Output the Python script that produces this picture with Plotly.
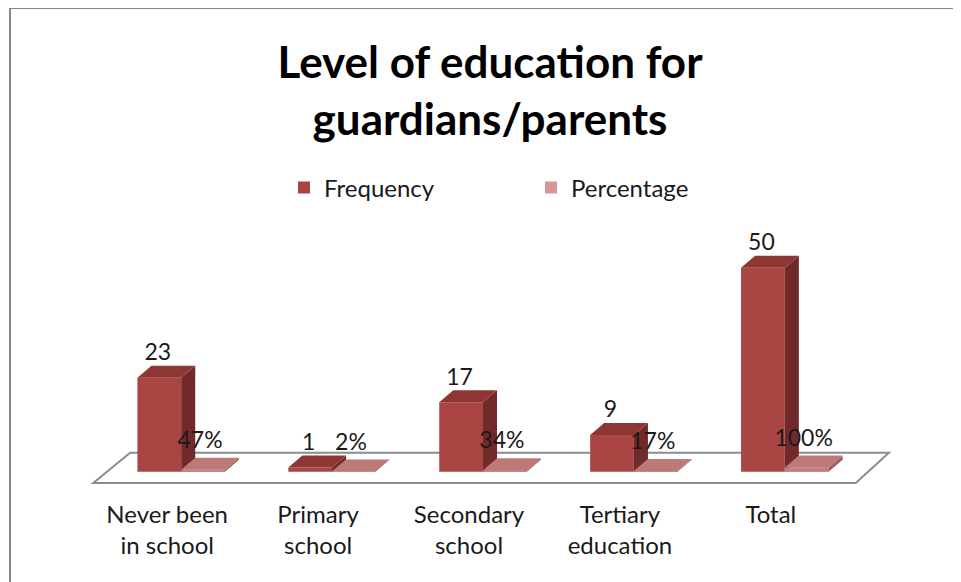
import plotly.graph_objects as go

# ---- data ----
categories = ["Never been<br>in school", "Primary<br>school", "Secondary<br>school",
              "Tertiary<br>education", "Total"]
frequency = [23, 1, 17, 9, 50]
percentage = [0.47, 0.02, 0.34, 0.17, 1.00]
series_names = ["Frequency", "Percentage"]

# ---- styling / geometry constants ----
W = 0.29          # bar width (category units)
DX = 0.093        # pseudo-3D depth, x (category units)
DY = 2.94         # pseudo-3D depth, y (value units)
FONT = "Lato"
FREQ_FRONT = "#A94543"
FREQ_TOP = "#8E3634"
FREQ_SIDE = "#72292A"
PCT_FRONT = "#C27F7E"
PCT_TOP = "#BC7978"
PCT_SIDE = "#9A5E5D"
PCT_LEGEND = "#D99694"
TEXT = "#1A1A1A"

# plot-area geometry (px, figure coords)
ML, MT, PW, PH = 60, 227, 830, 253

fig = go.Figure()

# floor (pseudo-3D base) -- decoration
fig.add_shape(type="path",
              path="M -0.583,-2.75 L -0.338,4.66 L 4.69,4.66 L 4.47,-2.75 Z",
              xref="x", yref="y", line=dict(color="#8C8C8C", width=2),
              fillcolor="white", layer="below")

xs = list(range(len(categories)))

# front faces as bars
fig.add_trace(go.Bar(x=xs, y=frequency, width=W, offset=-W, name=series_names[0],
                     marker=dict(color=FREQ_FRONT, line=dict(width=0))))
fig.add_trace(go.Bar(x=xs, y=percentage, width=W, offset=0, name=series_names[1],
                     marker=dict(color=PCT_LEGEND, line=dict(width=0))))


def face(xpts, ypts, color):
    fig.add_trace(go.Scatter(x=xpts + [xpts[0]], y=ypts + [ypts[0]], mode="lines",
                             fill="toself", fillcolor=color, line=dict(width=0, color=color),
                             hoverinfo="skip", showlegend=False))


for i, (f, p) in enumerate(zip(frequency, percentage)):
    # frequency bar: side, top
    x0, x1 = i - W, i
    face([x1, x1, x1 + DX, x1 + DX], [0, f, f + DY, DY], FREQ_SIDE)
    face([x0, x0 + DX, x1 + DX, x1], [f, f + DY, f + DY, f], FREQ_TOP)
    # percentage bar: front, side, top
    x0, x1 = i, i + W
    face([x0, x0, x1, x1], [0, p, p, 0], PCT_FRONT)
    face([x1, x1, x1 + DX, x1 + DX], [0, p, p + DY, DY], PCT_SIDE)
    face([x0, x0 + DX, x1 + DX, x1], [p, p + DY, p + DY, p], PCT_TOP)

# data labels
fig.add_trace(go.Scatter(x=[i - W / 2 - 0.01 for i in xs], y=[f + DY for f in frequency],
                         mode="text", text=[str(f) for f in frequency],
                         textposition="top center",
                         textfont=dict(family=FONT, size=23, color=TEXT),
                         showlegend=False, hoverinfo="skip", cliponaxis=False))
fig.add_trace(go.Scatter(x=[i + W / 2 - 0.02 for i in xs], y=[p + DY + 1 for p in percentage],
                         mode="text", text=[f"{round(p * 100)}%" for p in percentage],
                         textposition="top center",
                         textfont=dict(family=FONT, size=23, color=TEXT),
                         showlegend=False, hoverinfo="skip", cliponaxis=False))

# chart border (left & top visible)
fig.add_shape(type="rect", xref="paper", yref="paper",
              x0=(2 - ML) / PW, x1=(990 - ML) / PW,
              y0=(MT + PH - 620) / PH, y1=(MT + PH - 0) / PH,
              line=dict(color="#878787", width=2), fillcolor="rgba(0,0,0,0)", layer="below")

fig.update_layout(
    width=961, height=582,
    margin=dict(l=ML, r=961 - ML - PW, t=MT, b=582 - MT - PH, autoexpand=False),
    paper_bgcolor="white", plot_bgcolor="white",
    barmode="overlay",
    title=dict(text="<b>Level of education for<br>guardians/parents</b>",
               x=482 / 961, xanchor="center", y=1 - 70 / 582, yanchor="middle",
               xref="container", yref="container",
               font=dict(family=FONT, size=44, color="black")),
    legend=dict(orientation="h", x=(276 - ML) / PW, xanchor="left",
                y=(MT + PH - 180) / PH, yanchor="middle",
                font=dict(family=FONT, size=24, color=TEXT),
                entrywidth=202, entrywidthmode="pixels",
                itemclick=False, bgcolor="rgba(0,0,0,0)"),
    xaxis=dict(range=[-0.75, 4.75], tickvals=xs, ticktext=categories,
               showgrid=False, zeroline=False, showline=False, ticks="",
               ticklabelshift=-14, ticklabelstandoff=10,
               tickfont=dict(family=FONT, size=24, color=TEXT), fixedrange=True),
    yaxis=dict(range=[-4, 58], visible=False, fixedrange=True),
    showlegend=True,
)

fig.write_html("out.html")
